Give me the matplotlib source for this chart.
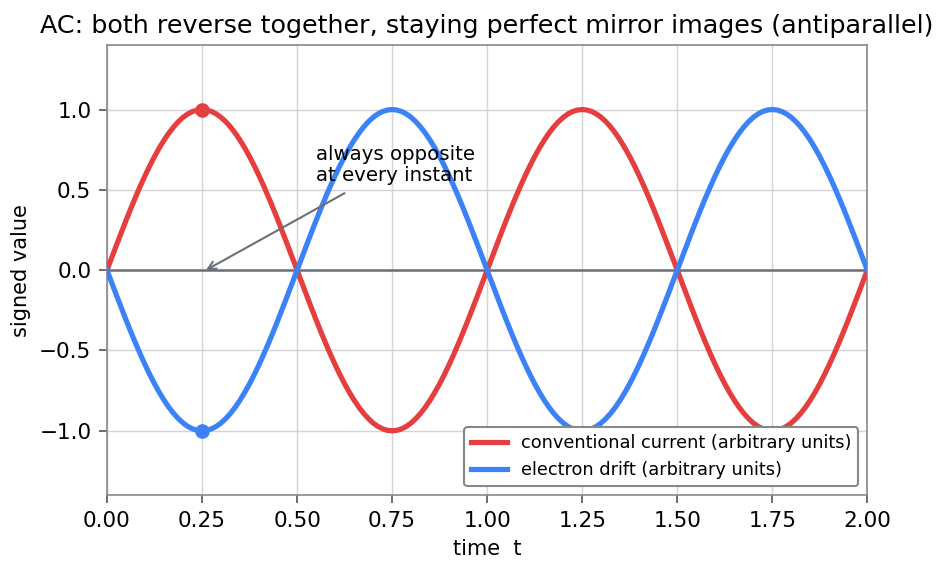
import matplotlib
matplotlib.use("Agg")
import matplotlib.pyplot as plt

# time samples (every 0.0125) and values
t = [round(0.0125 * k, 4) for k in range(161)]
quarter = [0.0, 0.0785, 0.1564, 0.2334, 0.3090, 0.3827, 0.4540, 0.5225, 0.5878,
           0.6494, 0.7071, 0.7604, 0.8090, 0.8526, 0.8910, 0.9239, 0.9511,
           0.9724, 0.9877, 0.9969, 1.0]
half = quarter + quarter[-2::-1]
cycle = half + [-v for v in half[1:]]
conventional = cycle + cycle[1:]
electron = [-v for v in conventional]

peak_t = 0.25
peak_current = 1.0
peak_electron = -1.0

xticks = [0.0, 0.25, 0.5, 0.75, 1.0, 1.25, 1.5, 1.75, 2.0]
yticks = [-1.0, -0.5, 0.0, 0.5, 1.0]

RED = "#e53e3e"
BLUE = "#3b82f6"

fig, ax = plt.subplots(figsize=(6.34, 3.82), dpi=150)
fig.subplots_adjust(left=0.1125, right=0.912, top=0.921, bottom=0.136)

ax.grid(True, color="#d4d4d8", linewidth=0.7)
ax.set_axisbelow(True)
ax.axhline(0, color="#6b6f78", linewidth=1.2, zorder=2)

ax.plot(t, conventional, color=RED, linewidth=2.5, label="conventional current (arbitrary units)", zorder=3)
ax.plot(t, electron, color=BLUE, linewidth=2.5, label="electron drift (arbitrary units)", zorder=3)
ax.plot([peak_t], [peak_current], "o", color=RED, markersize=6, zorder=4)
ax.plot([peak_t], [peak_electron], "o", color=BLUE, markersize=6, zorder=4)

ax.annotate("always opposite\nat every instant", xy=(0.26, 0.0), xytext=(0.55, 0.53),
            fontsize=9.5, ha="left", va="bottom", linespacing=1.15,
            arrowprops=dict(arrowstyle="->", color="#6b6f78", lw=1.0,
                            shrinkA=4, shrinkB=0))

ax.set_xlim(0, 2)
ax.set_ylim(-1.4, 1.4)
ax.set_xticks(xticks)
ax.set_yticks(yticks)
ax.set_xticklabels([f"{v:.2f}" for v in xticks])
ax.set_yticklabels([f"{v:.1f}".replace("-", "\u2212") for v in yticks])
ax.tick_params(labelsize=10.3, color="#555555", length=4)
for s in ax.spines.values():
    s.set_color("#888888")

ax.set_xlabel("time  t", fontsize=10)
ax.set_ylabel("signed value", fontsize=10)
ax.set_title("AC: both reverse together, staying perfect mirror images (antiparallel)", fontsize=12.2)

leg = ax.legend(loc="lower right", fontsize=8.5, framealpha=1, edgecolor="#888888", fancybox=True)

fig.savefig("out.png", dpi=150)
